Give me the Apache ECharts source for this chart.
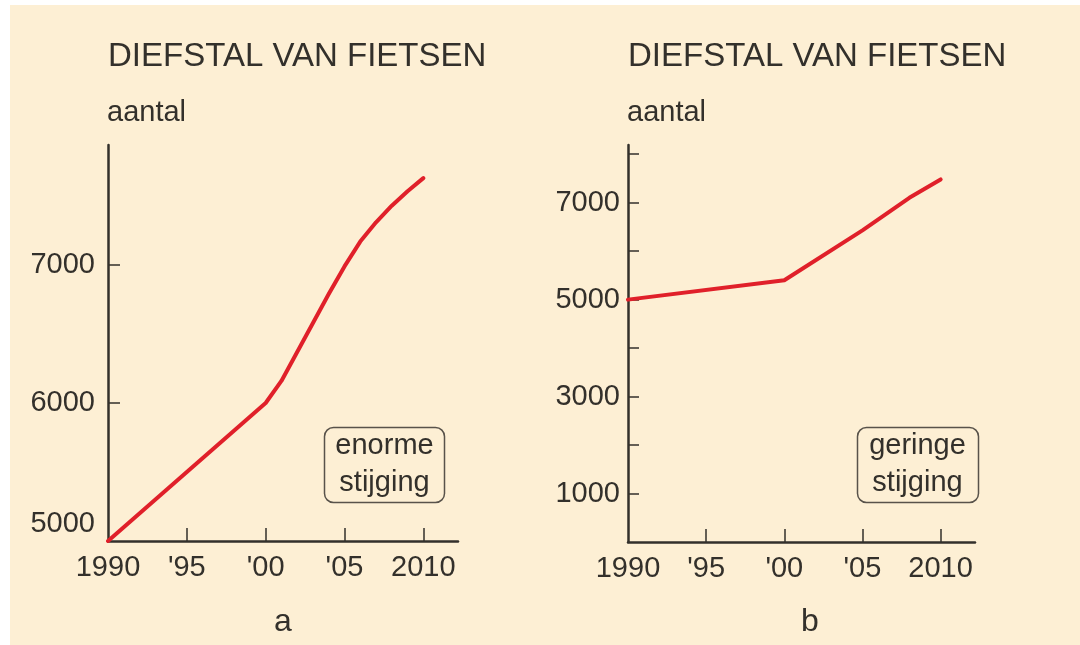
<!DOCTYPE html>
<html>
<head>
<meta charset="utf-8">
<script src="https://cdn.jsdelivr.net/npm/echarts@6/dist/echarts.min.js"></script>
<style>
  html, body { margin: 0; padding: 0; background: #fff; }
  #main {
    width: 1080px; height: 645px;
    background: linear-gradient(#fdefd4, #fdefd4) 10px 5px / 1070px 640px no-repeat, #fff;
  }
</style>
</head>
<body>
<div id="main"></div>
<script>
// chart a: enorme stijging
var yearsA = [1990, 1995, 2000, 2001, 2002, 2003, 2004, 2005, 2006, 2007, 2008, 2009, 2010];
var theftA = [5000, 5500, 6000, 6160, 6370, 6580, 6790, 6990, 7170, 7310, 7430, 7535, 7630];
// chart b: geringe stijging
var yearsB = [1990, 2000, 2005, 2008, 2010];
var theftB = [5000, 5400, 6430, 7100, 7480];

var xTickYears = [1995, 2000, 2005, 2010];
var xLabelYears = [1990, 1995, 2000, 2005, 2010];
var xLabelText = ['1990', "'95", "'00", "'05", '2010'];
var yTicksA = [6000, 7000];
var yLabelsA = [5000, 6000, 7000];
var yTicksB = [1000, 2000, 3000, 4000, 5000, 6000, 7000, 8000];
var yLabelsB = [1000, 3000, 5000, 7000];

var ink = '#33302b';
var red = '#e0202a';
var font = 'Liberation Sans, Arial, Helvetica, sans-serif';

function pairs(xs, ys) {
  return xs.map(function (x, i) { return [x, ys[i]]; });
}

function label(text, left, top, size) {
  return { text: text, left: left, top: top, padding: 0,
    textStyle: { fontSize: size, fontWeight: 'normal', color: ink, fontFamily: font } };
}

function xAxis(idx) {
  return {
    type: 'value', gridIndex: idx, min: 1990, max: 2012.2,
    splitLine: { show: false },
    axisLine: { lineStyle: { color: ink, width: 2.5 } },
    axisTick: { inside: true, length: 13, customValues: xTickYears, lineStyle: { color: ink, width: 1.5 } },
    axisLabel: {
      customValues: xLabelYears, margin: 12, color: ink, fontSize: 29, fontFamily: font,
      formatter: function (v) { return xLabelText[xLabelYears.indexOf(v)]; }
    }
  };
}

var chart = echarts.init(document.getElementById('main'));
chart.setOption({
  backgroundColor: 'transparent',
  animation: false,
  title: [
    label('DIEFSTAL VAN FIETSEN', 108, 40, 33),
    label('DIEFSTAL VAN FIETSEN', 628, 40, 33),
    label('aantal', 107, 98, 29),
    label('aantal', 627, 98, 29),
    label('a', 274, 606, 32),
    label('b', 801, 606, 32)
  ],
  grid: [
    { left: 108, top: 145, width: 350, height: 396 },
    { left: 628, top: 145, width: 347, height: 397 }
  ],
  xAxis: [xAxis(0), xAxis(1)],
  yAxis: [
    {
      type: 'value', gridIndex: 0, min: 5000, max: 7870,
      splitLine: { show: false },
      axisLine: { show: true, lineStyle: { color: ink, width: 2.5 } },
      axisTick: { show: true, inside: true, length: 12, customValues: yTicksA, lineStyle: { color: ink, width: 1.5 } },
      axisLabel: {
        customValues: yLabelsA, margin: 13, color: ink, fontSize: 29, fontFamily: font,
        formatter: function (v) { return v === 5000 ? '{up|5000}' : String(v); },
        rich: { up: { fontSize: 29, color: ink, fontFamily: font, padding: [0, 0, 34, 0] } }
      }
    },
    {
      type: 'value', gridIndex: 1, min: 0, max: 8190,
      splitLine: { show: false },
      axisLine: { show: true, lineStyle: { color: ink, width: 2.5 } },
      axisTick: { show: true, inside: true, length: 11, customValues: yTicksB, lineStyle: { color: ink, width: 1.5 } },
      axisLabel: {
        customValues: yLabelsB, margin: 8, color: ink, fontSize: 29, fontFamily: font,
        formatter: function (v) { return String(v); }
      }
    }
  ],
  graphic: [
    {
      type: 'group', left: 322, top: 425,
      children: [
        { type: 'rect', shape: { x: 0, y: 0, width: 120, height: 75, r: 9 }, style: { fill: 'none', stroke: '#58524a', lineWidth: 1.5 } },
        { type: 'text', x: 60, y: 37, style: { text: 'enorme\nstijging', fontSize: 29, lineHeight: 37, fontFamily: font, fill: ink, align: 'center', verticalAlign: 'middle' } }
      ]
    },
    {
      type: 'group', left: 855, top: 425,
      children: [
        { type: 'rect', shape: { x: 0, y: 0, width: 121, height: 75, r: 9 }, style: { fill: 'none', stroke: '#58524a', lineWidth: 1.5 } },
        { type: 'text', x: 60, y: 37, style: { text: 'geringe\nstijging', fontSize: 29, lineHeight: 37, fontFamily: font, fill: ink, align: 'center', verticalAlign: 'middle' } }
      ]
    }
  ],
  series: [
    {
      type: 'line', xAxisIndex: 0, yAxisIndex: 0, data: pairs(yearsA, theftA),
      showSymbol: false, lineStyle: { color: red, width: 4, cap: 'round', join: 'round' }
    },
    {
      type: 'line', xAxisIndex: 1, yAxisIndex: 1, data: pairs(yearsB, theftB),
      showSymbol: false, lineStyle: { color: red, width: 4, cap: 'round', join: 'round' }
    }
  ]
});
</script>
</body>
</html>
